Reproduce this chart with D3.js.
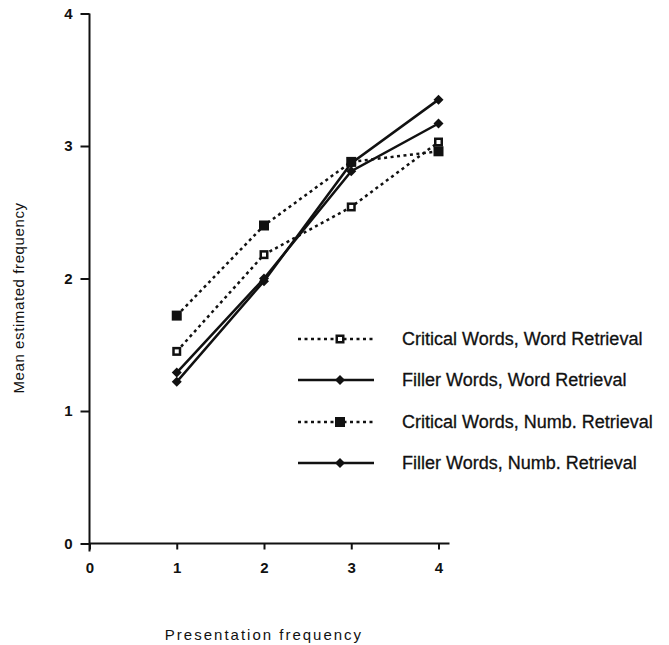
<!DOCTYPE html>
<html>
<head>
<meta charset="utf-8">
<script src="https://cdn.jsdelivr.net/npm/d3@7"></script>
<style>
  body { margin: 0; background: #fff; }
  svg { font-family: "Liberation Sans", Arial, sans-serif; }
</style>
</head>
<body>
<div id="chart"></div>
<script>
const width = 669;
const height = 645;

// Presentation frequency levels
const presentations = [1, 2, 3, 4];
const xTicks = [0, 1, 2, 3, 4];
const yTicks = [0, 1, 2, 3, 4];

// Mean estimated frequency per condition
const criticalWord = [1.45, 2.18, 2.54, 3.03];
const fillerWord = [1.29, 2.00, 2.81, 3.17];
const criticalNumb = [1.72, 2.40, 2.88, 2.96];
const fillerNumb = [1.22, 1.98, 2.87, 3.35];

const seriesNames = [
  "Critical Words, Word Retrieval",
  "Filler Words, Word Retrieval",
  "Critical Words, Numb. Retrieval",
  "Filler Words, Numb. Retrieval"
];

const series = [
  { name: seriesNames[0], values: criticalWord, dashed: true, marker: "open" },
  { name: seriesNames[1], values: fillerWord, dashed: false, marker: "diamond" },
  { name: seriesNames[2], values: criticalNumb, dashed: true, marker: "square" },
  { name: seriesNames[3], values: fillerNumb, dashed: false, marker: "diamond" }
];

const x = d3.scaleLinear().domain([0, 4]).range([89.5, 438.5]);
const y = d3.scaleLinear().domain([0, 4]).range([543.5, 13.5]);

const svg = d3.select("#chart")
  .append("svg")
  .attr("width", width)
  .attr("height", height);

// axes
const yAxis = svg.append("g")
  .attr("transform", `translate(${x(0)},0)`)
  .call(d3.axisLeft(y).tickValues(yTicks).tickFormat(d3.format("d"))
    .tickSize(9).tickPadding(8).tickSizeOuter(0));
yAxis.select(".domain").attr("d", `M0,${y(4)}V${y(0) + 8}`);

const xAxis = svg.append("g")
  .attr("transform", `translate(0,${y(0)})`)
  .call(d3.axisBottom(x).tickValues(xTicks).tickFormat(d3.format("d"))
    .tickSize(6).tickPadding(13).tickSizeOuter(0));
xAxis.select(".domain").attr("d", `M${x(0)},0H${x(4) + 11}`);

svg.selectAll(".tick text")
  .attr("font-size", 15)
  .attr("font-family", "Liberation Sans, Arial, sans-serif")
  .attr("font-weight", "bold")
  .attr("fill", "#111");
svg.selectAll(".domain, .tick line")
  .attr("stroke", "#111")
  .attr("stroke-width", 2);

// axis titles
svg.append("text")
  .attr("x", 264)
  .attr("y", 640)
  .attr("text-anchor", "middle")
  .attr("font-size", 15)
  .attr("letter-spacing", 2)
  .attr("fill", "#111")
  .text("Presentation frequency");

svg.append("text")
  .attr("transform", "translate(24,298) rotate(-90)")
  .attr("text-anchor", "middle")
  .attr("font-size", 15)
  .attr("letter-spacing", 0.6)
  .attr("fill", "#111")
  .text("Mean estimated frequency");

const line = d3.line()
  .x((d, i) => x(presentations[i]))
  .y(d => y(d));

function drawMarker(g, type, cx, cy) {
  if (type === "diamond") {
    g.append("path")
      .attr("d", `M${cx},${cy - 5}L${cx + 5},${cy}L${cx},${cy + 5}L${cx - 5},${cy}Z`)
      .attr("fill", "#111");
  } else if (type === "square") {
    g.append("rect")
      .attr("x", cx - 5).attr("y", cy - 5)
      .attr("width", 10).attr("height", 10)
      .attr("fill", "#111");
  } else {
    g.append("rect")
      .attr("x", cx - 4.5).attr("y", cy - 4.5)
      .attr("width", 9).attr("height", 9)
      .attr("fill", "#111");
    g.append("rect")
      .attr("x", cx - 2).attr("y", cy - 2)
      .attr("width", 4).attr("height", 4)
      .attr("fill", "#fff");
  }
}

// lines (critical numb first so the open squares sit on top)
const order = [2, 3, 1, 0];
order.forEach(k => {
  const s = series[k];
  svg.append("path")
    .datum(s.values)
    .attr("d", line)
    .attr("fill", "none")
    .attr("stroke", "#111")
    .attr("stroke-width", 2.5)
    .attr("stroke-dasharray", s.dashed ? "3,3.5" : null);
  const mg = svg.append("g");
  s.values.forEach((v, i) => drawMarker(mg, s.marker, x(presentations[i]), y(v)));
});

// legend
const legendY = [339, 380, 422, 463];
series.forEach((s, i) => {
  const g = svg.append("g").attr("transform", `translate(0,${legendY[i]})`);
  g.append("line")
    .attr("x1", 298).attr("x2", 374)
    .attr("y1", 0).attr("y2", 0)
    .attr("stroke", "#111")
    .attr("stroke-width", 2.5)
    .attr("stroke-dasharray", s.dashed ? "3,3.5" : null);
  drawMarker(g, s.marker, 340, 0);
  g.append("text")
    .attr("x", 402)
    .attr("y", 6)
    .attr("font-size", 18)
    .attr("fill", "#111")
    .attr("stroke", "#111")
    .attr("stroke-width", 0.3)
    .text(s.name);
});
</script>
</body>
</html>
